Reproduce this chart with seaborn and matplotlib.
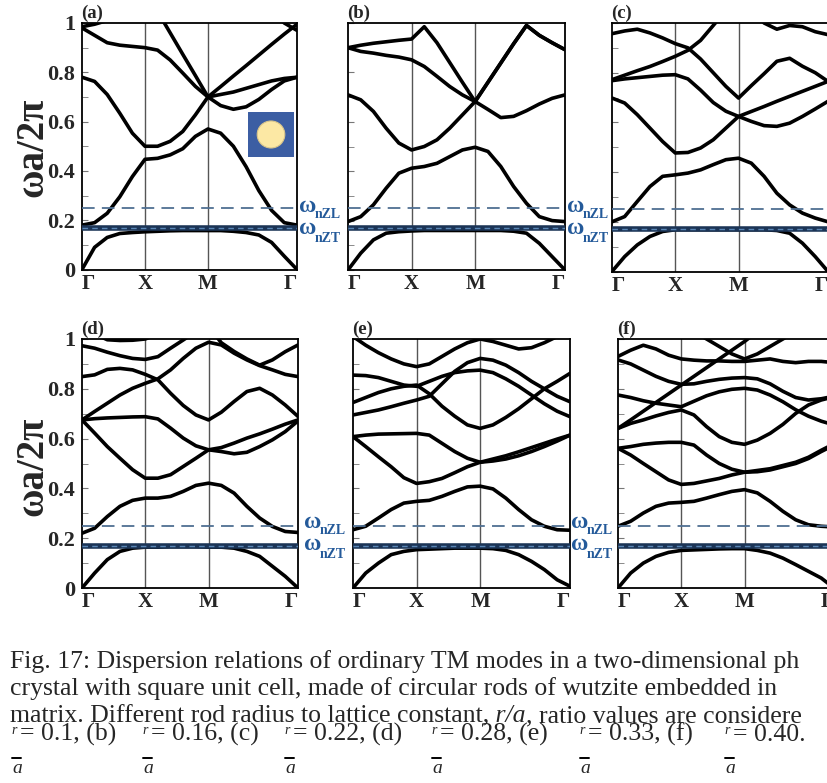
import numpy as np
import pandas as pd
import matplotlib
matplotlib.use("Agg")
import matplotlib.pyplot as plt
from matplotlib.lines import Line2D
from matplotlib.patches import Circle, Rectangle
from matplotlib.ticker import MultipleLocator
import seaborn as sns

# k points along the path G-X-M-G (G=0, X=1, M=2, G=2+sqrt2)
K_PATH = [0.0, 0.2, 0.4, 0.6, 0.8, 1.0, 1.2, 1.4, 1.6, 1.8, 2.0,
          2.202, 2.404, 2.606, 2.808, 3.010, 3.212, 3.414]
K_TICKS = [0.0, 1.0, 2.0, 3.414]
K_LABELS = ["Γ", "X", "M", "Γ"]

OMEGA_NZL = 0.25
OMEGA_NZT = 0.17

# frequencies wa/2pi (values > 1 are outside the frame)
bands_a = [
    [0, 0.09, 0.13, 0.146, 0.15, 0.153, 0.155, 0.157, 0.158, 0.158, 0.158, 0.158, 0.155, 0.15, 0.14, 0.11, 0.054, 0.0],
    [0.18, 0.19, 0.228, 0.295, 0.377, 0.447, 0.451, 0.465, 0.49, 0.54, 0.57, 0.553, 0.5, 0.417, 0.32, 0.24, 0.19, 0.18],
    [0.78, 0.763, 0.71, 0.634, 0.553, 0.5, 0.5, 0.52, 0.56, 0.627, 0.7, 0.665, 0.65, 0.66, 0.69, 0.73, 0.765, 0.78],
    [0.98, 0.95, 0.92, 0.91, 0.905, 0.9, 0.89, 0.85, 0.797, 0.743, 0.7, 0.71, 0.72, 0.735, 0.75, 0.765, 0.775, 0.78],
    [1.3, 1.25, 1.2, 1.16, 1.12, 1.09, 1.047, 0.96, 0.873, 0.787, 0.7, 0.742, 0.785, 0.827, 0.87, 0.913, 0.955, 0.995],
    [0.985, 0.995, 1.01, 1.04, 1.07, 1.1, 1.12, 1.15, 1.2, 1.25, 1.3, 1.25, 1.2, 1.15, 1.1, 1.05, 1.0, 0.97],
]
bands_b = [
    [0, 0.068, 0.122, 0.149, 0.155, 0.158, 0.16, 0.16, 0.16, 0.16, 0.16, 0.16, 0.16, 0.157, 0.149, 0.108, 0.054, 0.0],
    [0.196, 0.216, 0.264, 0.331, 0.392, 0.412, 0.419, 0.432, 0.459, 0.486, 0.497, 0.48, 0.419, 0.338, 0.27, 0.216, 0.2, 0.196],
    [0.709, 0.689, 0.642, 0.574, 0.514, 0.486, 0.5, 0.527, 0.574, 0.628, 0.682, 0.65, 0.617, 0.622, 0.645, 0.672, 0.695, 0.709],
    [0.9, 0.885, 0.878, 0.869, 0.862, 0.851, 0.824, 0.784, 0.743, 0.709, 0.682, 0.76, 0.838, 0.916, 0.99, 0.95, 0.92, 0.892],
    [0.9, 0.91, 0.918, 0.924, 0.93, 0.935, 0.985, 0.92, 0.84, 0.76, 0.682, 0.76, 0.838, 0.916, 0.99, 0.95, 0.92, 0.892],
]
bands_c = [
    [0, 0.06, 0.107, 0.141, 0.161, 0.168, 0.168, 0.168, 0.168, 0.168, 0.168, 0.168, 0.168, 0.165, 0.154, 0.114, 0.06, 0.0],
    [0.2, 0.221, 0.282, 0.342, 0.383, 0.389, 0.396, 0.409, 0.43, 0.45, 0.456, 0.436, 0.383, 0.315, 0.268, 0.235, 0.215, 0.2],
    [0.698, 0.678, 0.631, 0.577, 0.523, 0.477, 0.479, 0.497, 0.53, 0.577, 0.624, 0.604, 0.587, 0.584, 0.597, 0.624, 0.654, 0.685],
    [0.768, 0.775, 0.78, 0.785, 0.79, 0.792, 0.775, 0.73, 0.68, 0.645, 0.624, 0.644, 0.664, 0.685, 0.705, 0.725, 0.745, 0.765],
    [0.772, 0.79, 0.808, 0.825, 0.845, 0.866, 0.89, 0.93, 0.99, 1.05, 1.1, 1.06, 1.0, 0.975, 0.99, 0.985, 0.965, 0.953],
    [0.957, 0.968, 0.975, 0.96, 0.94, 0.917, 0.9, 0.855, 0.8, 0.745, 0.698, 0.748, 0.796, 0.846, 0.858, 0.826, 0.8, 0.765],
]
bands_d = [
    [0, 0.06, 0.114, 0.147, 0.16, 0.164, 0.164, 0.166, 0.166, 0.166, 0.164, 0.164, 0.16, 0.147, 0.127, 0.087, 0.047, 0.0],
    [0.22, 0.24, 0.287, 0.328, 0.352, 0.361, 0.361, 0.368, 0.388, 0.412, 0.421, 0.412, 0.381, 0.328, 0.281, 0.247, 0.227, 0.223],
    [0.675, 0.622, 0.568, 0.521, 0.475, 0.441, 0.441, 0.455, 0.488, 0.521, 0.555, 0.548, 0.539, 0.545, 0.568, 0.595, 0.628, 0.671],
    [0.675, 0.68, 0.683, 0.685, 0.687, 0.688, 0.679, 0.642, 0.602, 0.571, 0.555, 0.564, 0.582, 0.602, 0.619, 0.638, 0.658, 0.675],
    [0.675, 0.709, 0.742, 0.775, 0.802, 0.822, 0.84, 0.876, 0.922, 0.963, 0.987, 0.976, 0.943, 0.916, 0.893, 0.876, 0.858, 0.849],
    [0.849, 0.856, 0.878, 0.882, 0.876, 0.858, 0.836, 0.782, 0.733, 0.695, 0.675, 0.706, 0.749, 0.789, 0.802, 0.775, 0.735, 0.689],
    [0.973, 0.963, 0.947, 0.933, 0.922, 0.918, 0.929, 0.963, 0.996, 1.03, 1.05, 0.985, 0.95, 0.92, 0.895, 0.916, 0.949, 0.976],
    [1.05, 1.02, 0.997, 0.994, 0.995, 1.0, 1.02, 1.06, 1.1, 1.15, 1.2, 1.2, 1.2, 1.2, 1.2, 1.2, 1.2, 1.2],
]
bands_e = [
    [0, 0.06, 0.1, 0.134, 0.147, 0.154, 0.156, 0.158, 0.16, 0.16, 0.16, 0.158, 0.151, 0.134, 0.107, 0.074, 0.033, 0.007],
    [0.234, 0.248, 0.281, 0.315, 0.341, 0.348, 0.352, 0.368, 0.388, 0.406, 0.409, 0.398, 0.361, 0.315, 0.274, 0.248, 0.234, 0.232],
    [0.608, 0.568, 0.527, 0.487, 0.443, 0.42, 0.427, 0.44, 0.463, 0.487, 0.505, 0.51, 0.518, 0.531, 0.548, 0.568, 0.59, 0.614],
    [0.608, 0.614, 0.618, 0.619, 0.62, 0.621, 0.614, 0.581, 0.548, 0.521, 0.505, 0.518, 0.531, 0.547, 0.564, 0.581, 0.598, 0.614],
    [0.695, 0.705, 0.715, 0.728, 0.742, 0.755, 0.77, 0.82, 0.87, 0.905, 0.922, 0.915, 0.895, 0.865, 0.83, 0.8, 0.77, 0.748],
    [0.745, 0.765, 0.785, 0.8, 0.81, 0.815, 0.78, 0.73, 0.69, 0.655, 0.641, 0.655, 0.685, 0.72, 0.76, 0.8, 0.83, 0.862],
    [0.855, 0.853, 0.845, 0.83, 0.815, 0.81, 0.83, 0.85, 0.865, 0.872, 0.875, 0.865, 0.84, 0.81, 0.775, 0.74, 0.71, 0.688],
    [1.01, 0.975, 0.945, 0.92, 0.9, 0.889, 0.9, 0.93, 0.96, 0.985, 1.0, 0.99, 0.975, 0.96, 0.965, 0.985, 1.01, 1.04],
]
bands_f = [
    [0, 0.06, 0.1, 0.127, 0.143, 0.151, 0.153, 0.155, 0.157, 0.158, 0.158, 0.151, 0.14, 0.12, 0.094, 0.067, 0.04, 0.0],
    [0.248, 0.268, 0.301, 0.328, 0.341, 0.344, 0.348, 0.361, 0.375, 0.388, 0.395, 0.382, 0.348, 0.308, 0.274, 0.254, 0.248, 0.245],
    [0.561, 0.534, 0.5, 0.467, 0.434, 0.416, 0.42, 0.43, 0.44, 0.454, 0.465, 0.467, 0.474, 0.487, 0.5, 0.52, 0.548, 0.574],
    [0.561, 0.568, 0.577, 0.582, 0.585, 0.585, 0.574, 0.534, 0.5, 0.477, 0.465, 0.472, 0.479, 0.492, 0.505, 0.525, 0.553, 0.579],
    [0.641, 0.661, 0.675, 0.691, 0.705, 0.715, 0.695, 0.648, 0.608, 0.585, 0.577, 0.594, 0.621, 0.657, 0.701, 0.735, 0.755, 0.768],
    [0.641, 0.675, 0.71, 0.745, 0.78, 0.815, 0.85, 0.885, 0.92, 0.955, 0.99, 1.03, 1.07, 1.1, 1.1, 1.1, 1.1, 1.1],
    [0.775, 0.765, 0.752, 0.742, 0.735, 0.728, 0.75, 0.772, 0.788, 0.798, 0.802, 0.795, 0.775, 0.748, 0.716, 0.69, 0.67, 0.655],
    [0.916, 0.9, 0.875, 0.85, 0.83, 0.818, 0.82, 0.83, 0.838, 0.843, 0.845, 0.84, 0.82, 0.79, 0.765, 0.755, 0.76, 0.77],
    [0.93, 0.955, 0.975, 0.96, 0.935, 0.92, 0.915, 0.912, 0.912, 0.91, 0.91, 0.915, 0.92, 0.91, 0.905, 0.91, 0.91, 0.905],
    [1.2, 1.15, 1.1, 1.08, 1.06, 1.05, 1.03, 1.0, 0.97, 0.94, 0.92, 0.94, 0.97, 1.0, 1.03, 1.06, 1.1, 1.1],
]

PANEL_TAGS = ["(a)", "(b)", "(c)", "(d)", "(e)", "(f)"]
RATIOS = ["0.1", "0.16", "0.22", "0.28", "0.33", "0.40"]

CAPTION_1 = "Fig. 17: Dispersion relations of ordinary TM modes in a two-dimensional ph"
CAPTION_2 = "crystal with square unit cell, made of circular rods of wutzite embedded in"
CAPTION_3 = ["matrix. Different rod radius to lattice constant,", " r/a", ", ratio values are considere"]

W, H = 828, 783
BLUE_TXT = "#245a9a"

sns.set_style("ticks")
plt.rcParams["font.family"] = ["Liberation Serif", "DejaVu Serif"]
plt.rcParams["font.weight"] = "bold"


def fx(x):
    return x / W


def fy(y):
    return 1 - y / H


def to_frame(bands):
    rows = []
    for i, b in enumerate(bands):
        for k, w in zip(K_PATH, b):
            rows.append({"k": k, "w": w, "band": i})
    return pd.DataFrame(rows)


fig = plt.figure(figsize=(W / 100, H / 100), dpi=100)

# axes boxes in pixels: left, right, top, bottom
boxes = [(82, 297, 23, 269.5), (348, 565, 23, 270), (612, 828, 23, 271.5),
         (82, 298, 339, 588), (353, 570, 339, 588), (618, 834, 339, 588)]
all_bands = [bands_a, bands_b, bands_c, bands_d, bands_e, bands_f]

for idx, ((l, r, t, b), bands) in enumerate(zip(boxes, all_bands)):
    ax = fig.add_axes([fx(l), fy(b), (r - l) / W, (b - t) / H])
    df = to_frame(bands)
    sns.lineplot(data=df, x="k", y="w", units="band", estimator=None, sort=False,
                 color="black", lw=2.6, ax=ax, legend=False)
    for kv in K_TICKS[1:3]:
        ax.axvline(kv, color="#555555", lw=1.0, zorder=1)
    ax.axhline(OMEGA_NZL, color="#4f6f92", lw=1.3, dashes=(7, 4), zorder=3)
    ax.axhline(OMEGA_NZT, color="#1b3456", lw=4.0, zorder=3)
    ax.axhline(OMEGA_NZT, color="#5a86b5", lw=1.0, dashes=(4, 3), zorder=4)
    ax.set_xlim(0, K_TICKS[-1])
    ax.set_ylim(0, 1)
    ax.set_xticks(K_TICKS)
    ax.set_xticklabels(K_LABELS)
    xl = ax.get_xticklabels()
    xl[0].set_horizontalalignment("left")
    xl[-1].set_horizontalalignment("right")
    ax.set_xlabel("")
    ax.set_ylabel("")
    ax.set_yticks([0, 0.2, 0.4, 0.6, 0.8, 1.0])
    ax.yaxis.set_minor_locator(MultipleLocator(0.1))
    if idx % 3 == 0:
        ax.set_yticklabels(["0", "0.2", "0.4", "0.6", "0.8", "1"])
    else:
        ax.set_yticklabels([])
    ax.tick_params(axis="y", which="both", direction="in", length=4, color="#777777",
                   labelsize=16, pad=5)
    ax.tick_params(axis="x", length=0, pad=3, labelsize=15)
    for s in ax.spines.values():
        s.set_color("black")
        s.set_linewidth(1.3)
        s.set_visible(True)
    fig.text(fx(l - 1), fy(t - 10), PANEL_TAGS[idx], fontsize=13.5, ha="left", va="center")

# y axis titles
for yc in (147, 466):
    fig.text(fx(33), fy(yc), "ωa/2π", fontsize=28, rotation=90, ha="center", va="center")

# omega labels right of panels a, b, d, e
for xl, dy in ((299, 0), (567, 0), (304, 316), (571, 316)):
    fig.text(fx(xl), fy(206 + dy), "ω", fontsize=17, color=BLUE_TXT, ha="left", va="center")
    fig.text(fx(xl + 16), fy(215 + dy), "nZL", fontsize=10, color=BLUE_TXT, ha="left", va="center")
    fig.text(fx(xl), fy(229 + dy), "ω", fontsize=17, color=BLUE_TXT, ha="left", va="center")
    fig.text(fx(xl + 16), fy(239 + dy), "nZT", fontsize=10, color=BLUE_TXT, ha="left", va="center")

# unit cell inset in panel (a)
ins = fig.add_axes([fx(248), fy(157), 46 / W, 45 / H])
ins.add_patch(Rectangle((0, 0), 1, 1, color="#3c5ea3"))
ins.add_patch(Circle((0.5, 0.5), 0.3, facecolor="#fce8a4", edgecolor="#d9c58a", lw=0.8))
ins.set_xlim(0, 1)
ins.set_ylim(0, 1)
ins.axis("off")

# caption
cap = dict(fontsize=18.5, fontweight="normal", va="baseline", ha="left")
fig.text(fx(10), fy(668), CAPTION_1, **cap)
fig.text(fx(10), fy(695), CAPTION_2, **cap)
renderer = fig.canvas.get_renderer()
xr = 10
for i, piece in enumerate(CAPTION_3):
    tx = fig.text(fx(xr), fy(722), piece, style="italic" if i == 1 else "normal", **cap)
    xr += tx.get_window_extent(renderer=renderer).width

r_pos = [17, 148, 290, 437, 585, 730]
tails = [", (b)", ", (c)", ", (d)", ", (e)", ", (f)", "."]
for xp, ratio, tail in zip(r_pos, RATIOS, tails):
    fig.text(fx(xp - 3), fy(734), "r", fontsize=10, style="italic", fontweight="normal",
             ha="center", va="baseline")
    fig.add_artist(Line2D([fx(xp - 5), fx(xp + 4)], [fy(758), fy(758)], color="black", lw=1.4))
    fig.text(fx(xp), fy(773), "a", fontsize=14, style="italic", fontweight="normal",
             ha="center", va="baseline")
    fig.text(fx(xp + 3), fy(741), "= " + ratio + tail, **cap)

fig.savefig("out.png", dpi=100)
